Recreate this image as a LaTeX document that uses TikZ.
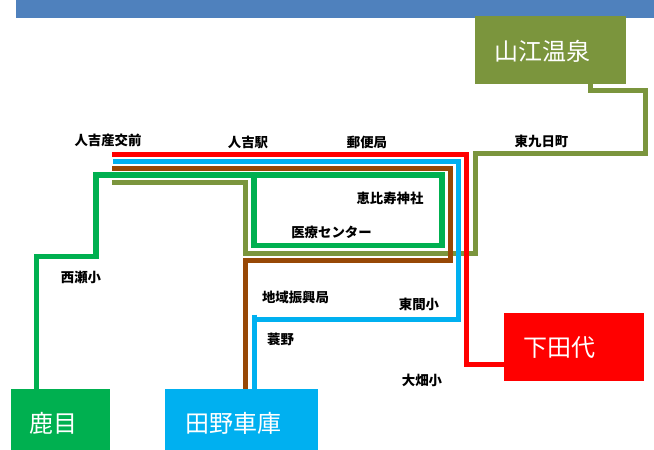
\documentclass[tikz,border=0pt]{standalone}
\usepackage{fontspec}
\newfontfamily\cjk{Noto Sans CJK JP}
\definecolor{barblue}{HTML}{4F81BD}
\definecolor{olive}{HTML}{7B953D}
\definecolor{rosso}{HTML}{FF0000}
\definecolor{midori}{HTML}{00B050}
\definecolor{sora}{HTML}{00B0F0}
\definecolor{chairo}{HTML}{974806}
\tikzset{
box/.style={inner sep=0, outer sep=0, minimum width=#1},
stationtext/.style={text=white, inner sep=0, font=\cjk\fontsize{24}{26}\selectfont},
stoplabel/.style={text=black, inner sep=0, font=\cjk\bfseries\fontsize{13.4}{15}\selectfont},
route/.style={line width=5pt, line join=miter}
}
\begin{document}
\begin{tikzpicture}[x=1pt,y=-1pt]
\useasboundingbox (0,0) rectangle (654,450);

\node[box=638, minimum height=18, fill=barblue] (bar) at (335,9){};

\node[box=151, minimum height=68, fill=olive] (yamae) at (550.5,50){};
\node[box=140, minimum height=68, fill=rosso] (shimoda) at (574,347){};
\node[box=99, minimum height=61, fill=midori] (kanome) at (60.5,419.5){};
\node[box=153, minimum height=61, fill=sora] (tano) at (241.5,419.5){};

\node[stationtext] (yamaetext) at (542,51){山江温泉};
\node[stationtext] (shimodatext) at (559,348){下田代};
\node[stationtext] (kanometext) at (53,423){鹿目};
\node[stationtext] (tanotext) at (233.5,423){田野車庫};

\coordinate (startred) at (112,154);
\coordinate (startblue) at (113,161);
\coordinate (startbrown) at (112,168);
\coordinate (startolive) at (112,182);

%olive goes first, the others cross over it
\draw[route, olive] (startolive) -- (245.5,182) -- (245.5,253) -- (475,253) -- (475,153.5) -- (645,153.5) -- (645,90.5) -- (590,90.5) -- (yamae.south -| 590,0);
\draw[route, chairo] (startbrown) -- (450.5,168) -- (450.5,260.5) -- (245,260.5) -- (tano.north -| 245,0);
\draw[route, midori, line width=5.5pt] (kanome.north -| 36.5,0) -- (36.5,256.5) -- (96,256.5) -- (96,175) -- (442,175) -- (442,245.5) -- (254,245.5) -- (254,175);
\draw[route, sora] (startblue) -- (458.5,161) -- (458.5,319) -- (254,319) (254,314.5) -- (tano.north -| 254,0);
\draw[route, rosso] (startred) -- (466.5,154) -- (466.5,364.5) -- (shimoda.west |- 0,364.5);

\node[stoplabel] (sanko) at (108,140.5){人吉産交前};
\node[stoplabel] (hitoyoshi) at (248,142){人吉駅};
\node[stoplabel] (yubin) at (367,142){郵便局};
\node[stoplabel] (higashi) at (541.5,141.5){東九日町};
\node[stoplabel] (ebisu) at (390,198.5){恵比寿神社};
\node[stoplabel] (iryo) at (331.5,232){医療センター};
\node[stoplabel] (nishise) at (81,277){西瀬小};
\node[stoplabel] (chiiki) at (295.5,297){地域振興局};
\node[stoplabel] (higashima) at (419,304){東間小};
\node[stoplabel] (mino) at (280.5,339){蓑野};
\node[stoplabel] (ohata) at (422,380){大畑小};

\end{tikzpicture}
\end{document}
